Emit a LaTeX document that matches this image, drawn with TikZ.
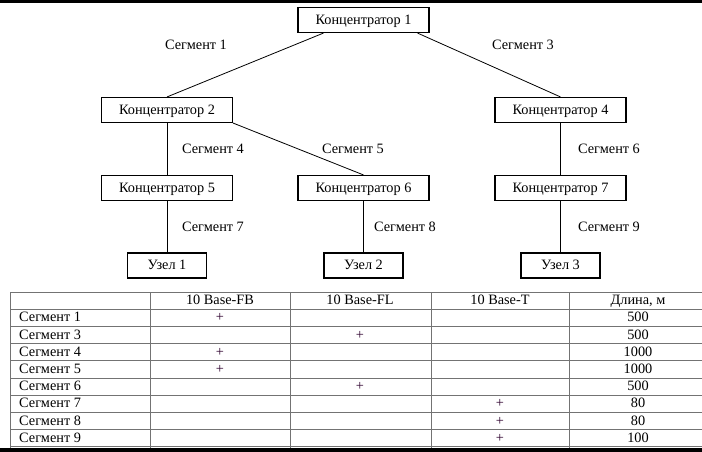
\documentclass[tikz,border=0pt]{standalone}
\usepackage{fontspec}
\setmainfont{Liberation Serif}
\usepackage{tikz}
\usetikzlibrary{positioning}

\tikzset{
  hub/.style={draw,line width=1.1pt,fill=white,minimum width=131pt,minimum height=25pt,inner sep=0pt,text height=1.8ex,text depth=0ex},
  host/.style={hub,minimum width=79pt},
  seglabel/.style={inner sep=0pt,text height=1.8ex,text depth=0ex},
  link/.style={line width=0.8pt},
  grid line/.style={line width=0.7pt,color=black!55},
  cell/.style={inner sep=0pt,text height=1.8ex,text depth=0ex},
  plus/.style={cell,text=black!65!violet}
}

\begin{document}
\begin{tikzpicture}[x=1pt,y=-1pt,font=\fontsize{14.3}{16}\selectfont]
\useasboundingbox (0,0) rectangle (702,452);
\fill[black] (0,0) rectangle (702,2.7);
\fill[black] (0,447.6) rectangle (702,452);

% tree
\node[hub] (K1) at (363.5,20) {Концентратор 1};
\node[hub] (K2) at (167,110) {Концентратор 2};
\node[hub] (K4) at (560.5,110) {Концентратор 4};
\node[hub] (K5) at (167,188) {Концентратор 5};
\node[hub] (K6) at (363.5,188) {Концентратор 6};
\node[hub] (K7) at (560.5,188) {Концентратор 7};
\node[host] (U1) at (167,265.5) {Узел 1};
\node[host] (U2) at (363.5,265.5) {Узел 2};
\node[host] (U3) at (560.5,265.5) {Узел 3};

\draw[link] ([xshift=-40pt]K1.south) -- (K2.north);
\draw[link] ([xshift=54pt]K1.south) -- (K4.north);
\draw[link] (K2.south east) -- (K6.north);
\draw[link] (K2) -- (K5);
\draw[link] (K4) -- (K7);
\draw[link] (K5) -- (U1);
\draw[link] (K6) -- (U2);
\draw[link] (K7) -- (U3);

\node[seglabel] (S1) at (196,45.5) {Сегмент 1};
\node[seglabel] (S3) at (523,45.5) {Сегмент 3};
\node[seglabel] (S4) at (213,149.5) {Сегмент 4};
\node[seglabel] (S5) at (353,149.5) {Сегмент 5};
\node[seglabel] (S6) at (609,149.5) {Сегмент 6};
\node[seglabel] (S7) at (213,227.5) {Сегмент 7};
\node[seglabel] (S8) at (405,227.5) {Сегмент 8};
\node[seglabel] (S9) at (609,227.5) {Сегмент 9};

% table
\foreach \r in {0,...,9}
  \draw[grid line] (10,292+17.2*\r) -- (702,292+17.2*\r);
\foreach \c in {10,150,290,431,569}
  \draw[grid line] (\c,292) -- (\c,447.6);

\node[cell] (H1) at (220,300.6) {10 Base-FB};
\node[cell] (H2) at (360,300.6) {10 Base-FL};
\node[cell] (H3) at (500,300.6) {10 Base-T};
\node[cell] (H4) at (638,300.6) {Длина, м};

\foreach \i/\s/\c/\len in {1/1/1/500,2/3/2/500,3/4/1/1000,4/5/1/1000,5/6/2/500,6/7/3/80,7/8/3/80,8/9/3/100}{
  \node[cell,anchor=west] (R\i) at (19,300.6+17.2*\i) {Сегмент \s};
  \node[plus] (P\i) at (80+140*\c,300.6+17.2*\i) {+};
  \node[cell] (L\i) at (638,300.6+17.2*\i) {\len};
}
\end{tikzpicture}
\end{document}
